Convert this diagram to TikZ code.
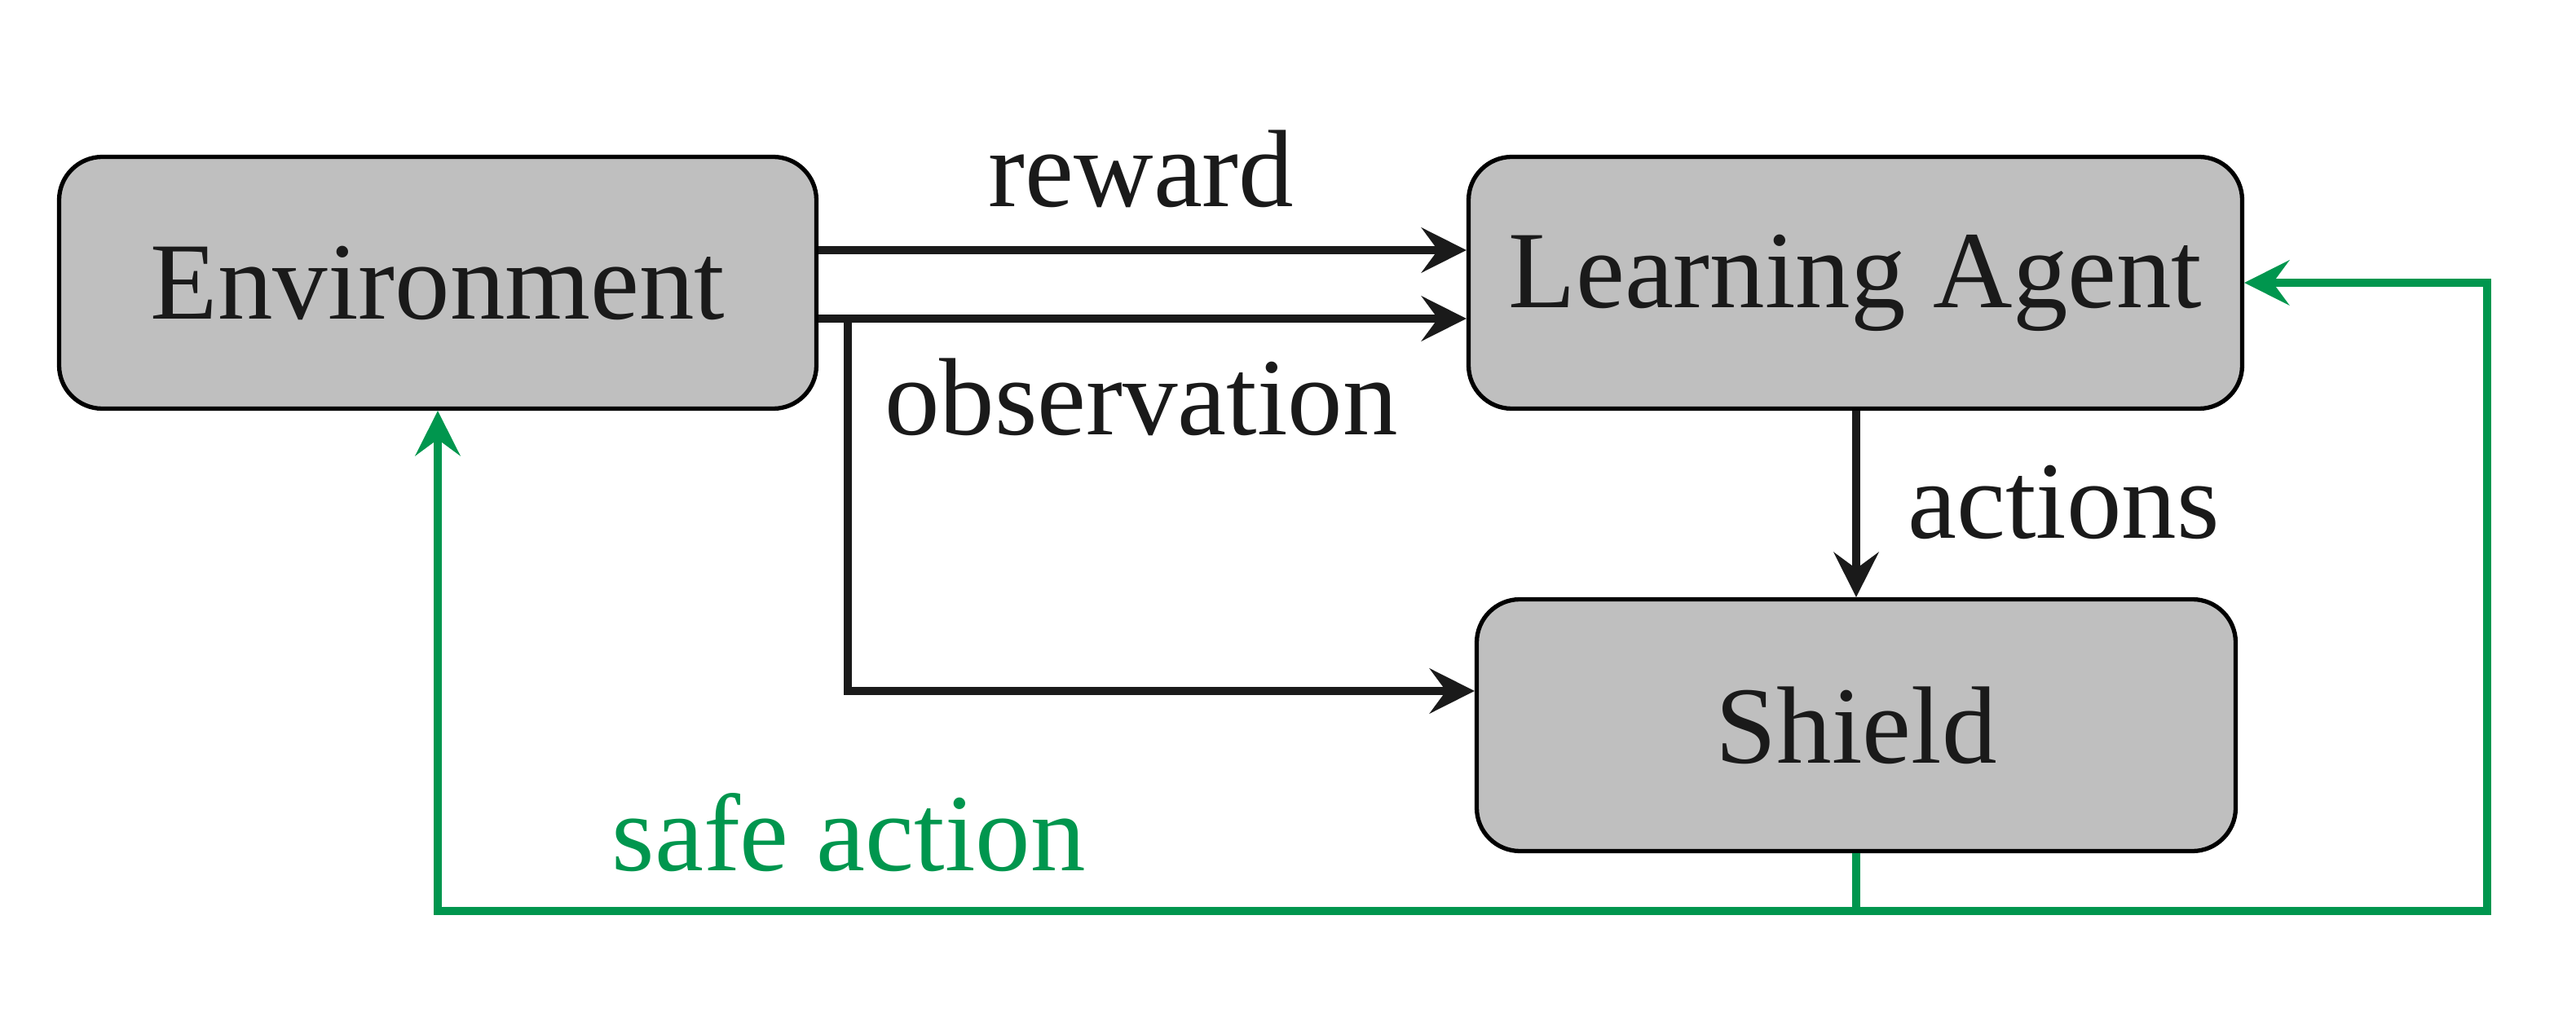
\documentclass[tikz,border=0pt]{standalone}
\usepackage{fontspec}
\setmainfont{Liberation Serif}
\usetikzlibrary{arrows.meta}
\definecolor{boxgray}{HTML}{BFBFBF}
\definecolor{inkgray}{HTML}{1A1A1A}
\definecolor{safegreen}{HTML}{00964E}

\begin{document}
\begin{tikzpicture}[
  block/.style={draw=black,fill=boxgray,rounded corners=0.53cm,line width=1.5pt,
    minimum height=3.09cm,text=inkgray,font=\fontsize{38.4}{46}\selectfont},
  flow/.style={line width=3.1pt,draw=inkgray,line join=miter,
    -{Stealth[length=5.5mm,width=5.5mm,inset=2mm]}},
  safe/.style={line width=2.9pt,draw=safegreen,line join=miter,
    -{Stealth[length=5.5mm,width=5.5mm,inset=2mm]}},
  lbl/.style={anchor=base,text=inkgray,font=\fontsize{38.4}{46}\selectfont}
]
\useasboundingbox (0,0) rectangle (31.6,12.52);

\node[block,minimum width=9.29cm] (env) at (5.37,9.05) {Environment};
\node[block,minimum width=9.49cm] (agent) at (22.76,9.05) {Learning Agent};
\node[block,minimum width=9.31cm] (shield) at (22.77,3.62) {Shield};

\coordinate (obsfork) at (10.40,8.61);
\coordinate (obscorner) at (10.40,4.04);
\coordinate (safefork) at (22.77,1.34);
\coordinate (safecorner) at (30.51,1.34);

\draw[flow] (env.east |- 0,9.45) -- (agent.west |- 0,9.45);
\draw[flow] (env.east |- obsfork) -- (agent.west |- obsfork);
\draw[flow] (obsfork) -- (obscorner) -- (shield.west |- obscorner);
\draw[flow] (agent.south -| shield.north) -- (shield.north);

\draw[safe] (shield.south) -- (safefork) -| (env.south);
\draw[safe] (safefork) -- (safecorner) |- (agent.east);

\node[lbl] (rewardlbl) at (14.0,9.98) {reward};
\node[lbl] (obslbl) at (14.0,7.18) {observation};
\node[lbl,anchor=base west] (actlbl) at (23.28,5.91) {actions};
\node[lbl,text=safegreen] (safelbl) at (10.41,1.84) {safe action};
\end{tikzpicture}
\end{document}
